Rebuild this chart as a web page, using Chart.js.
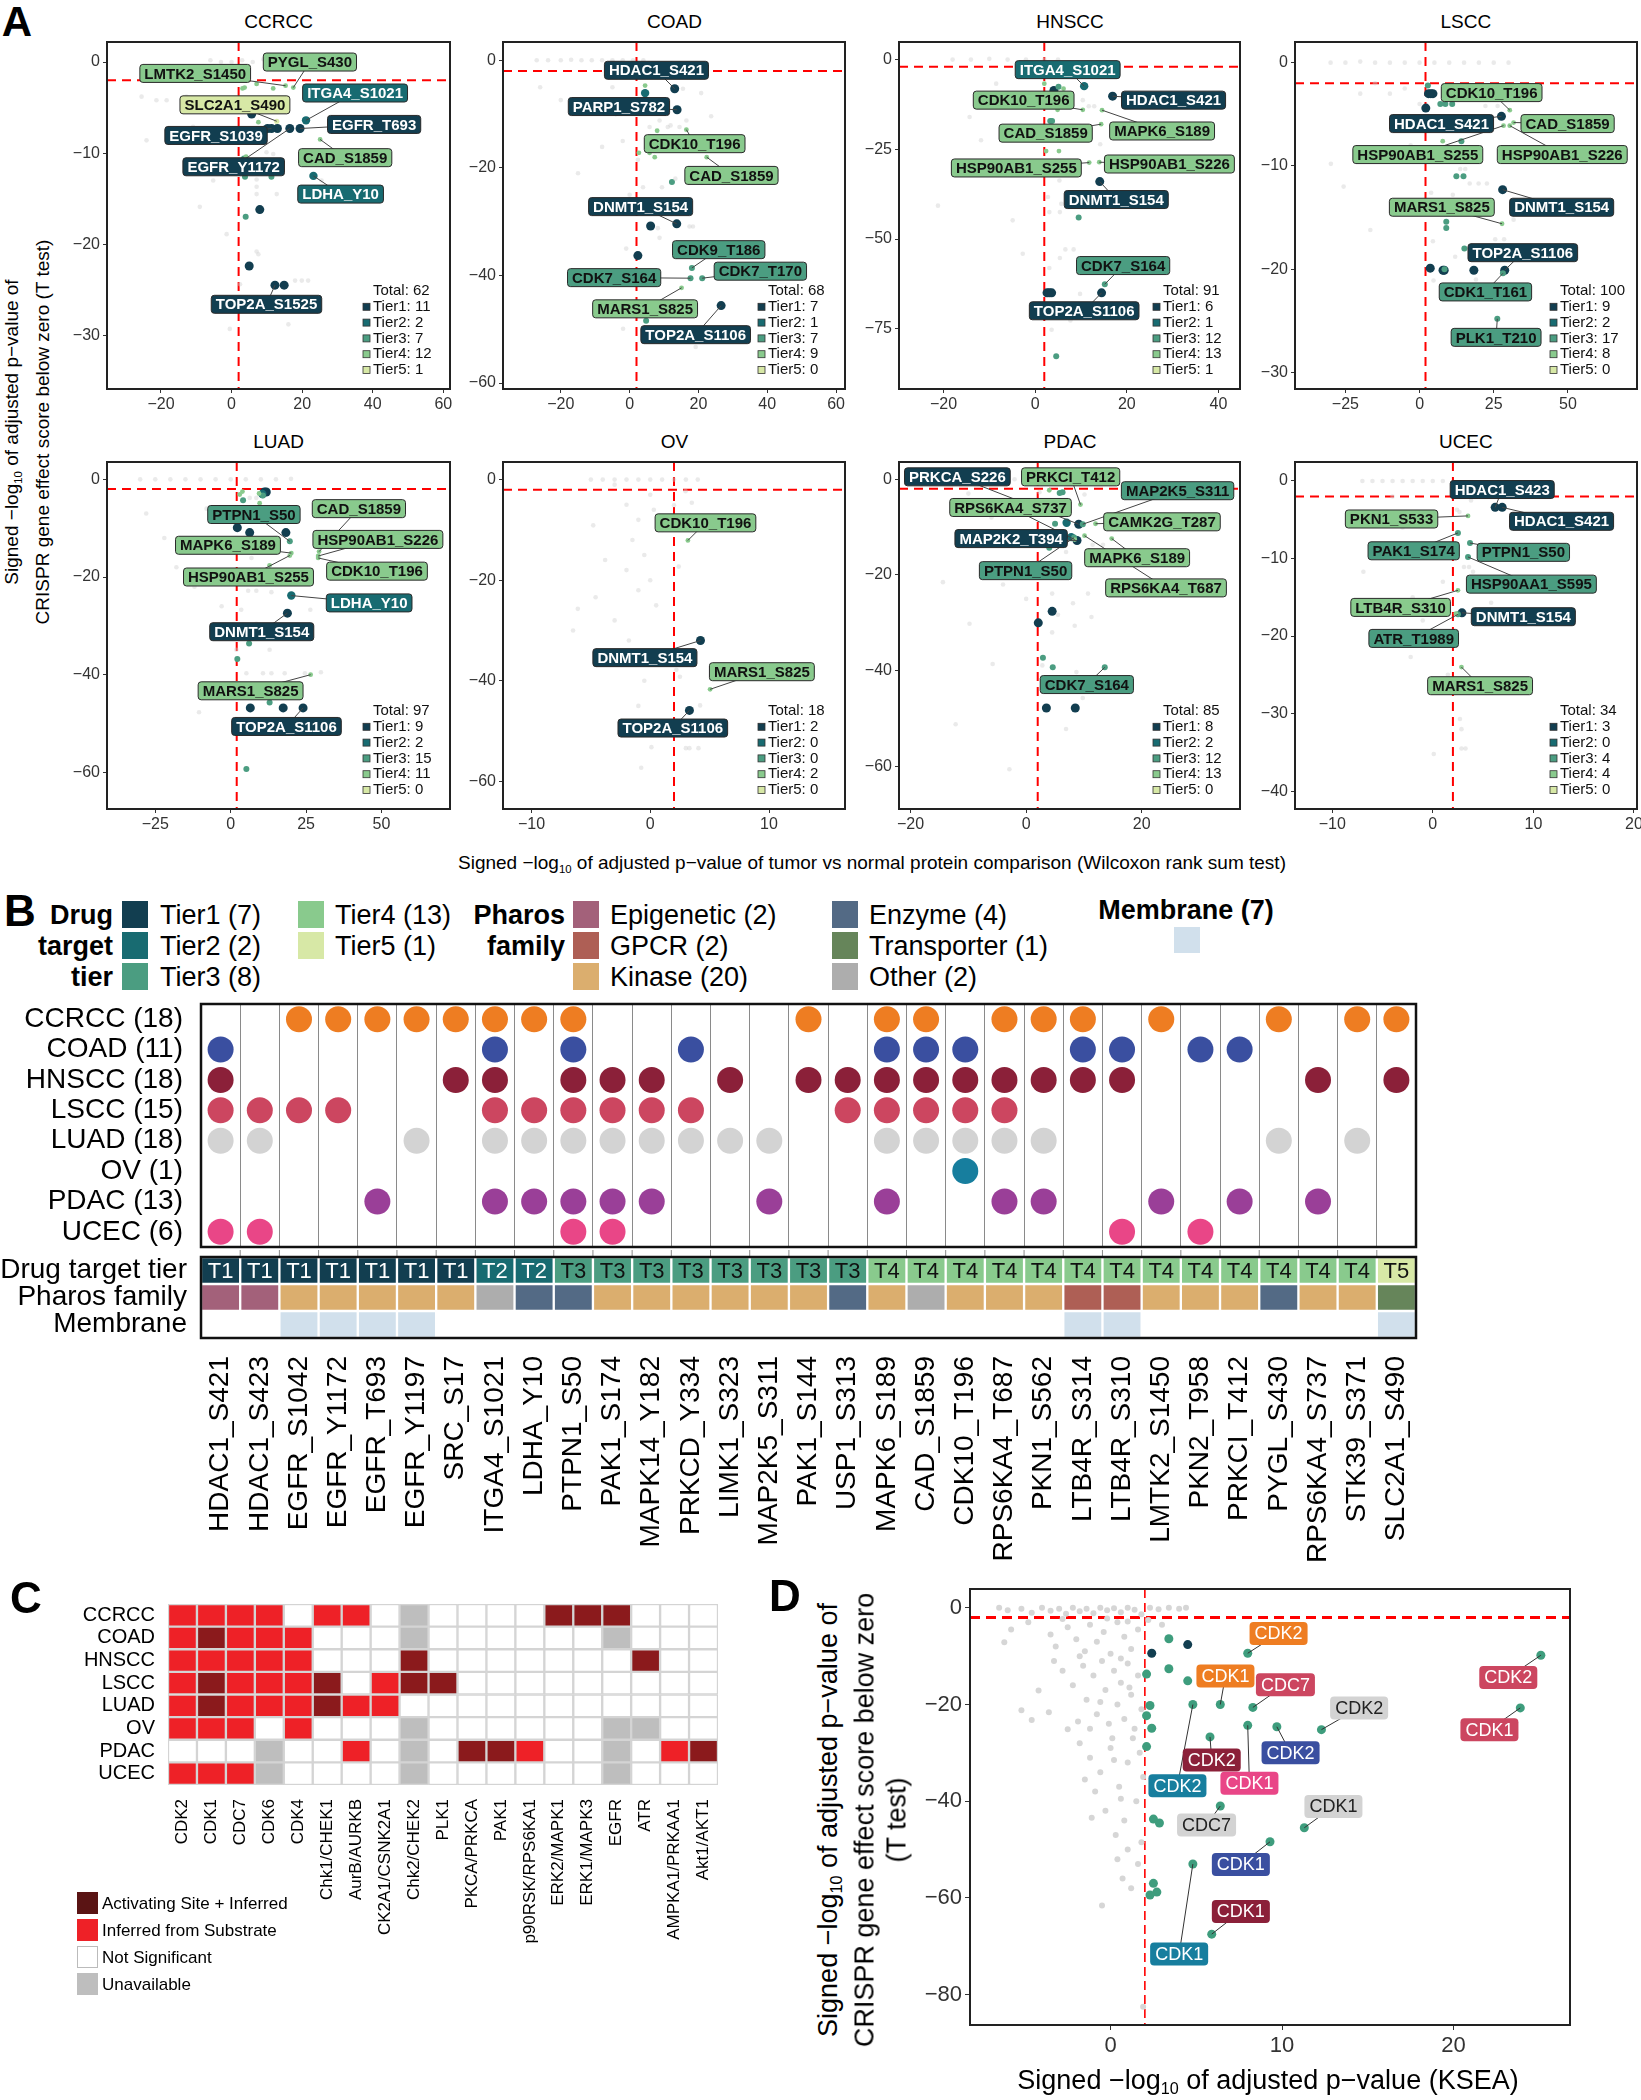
<!DOCTYPE html>
<html><head><meta charset="utf-8">
<script src="https://cdn.jsdelivr.net/npm/chart.js@4.4.1/dist/chart.umd.min.js"></script>
<style>
html,body{margin:0;padding:0;background:#fff}
body{position:relative;width:1641px;height:2100px;overflow:hidden;font-family:"Liberation Sans",Arial,Helvetica,sans-serif;color:#000}
.t{position:absolute;white-space:nowrap;line-height:1}
.sw{position:absolute;box-sizing:border-box}
canvas{position:absolute}
.sb{font-size:60%;vertical-align:-0.3em}
</style></head><body>
<script>
// ================= DATA =================
// Panel A
const panelNames = ["CCRCC","COAD","HNSCC","LSCC","LUAD","OV","PDAC","UCEC"];
const totalSites = [62,68,91,100,97,18,85,34];
const tier1Sites = [11,7,6,9,9,2,8,3];
const tier2Sites = [2,1,1,2,2,0,2,0];
const tier3Sites = [7,7,12,17,15,0,12,4];
const tier4Sites = [12,9,13,8,11,2,13,4];
const tier5Sites = [1,0,1,0,0,0,0,0];
const aXTicks = [[-20,0,20,40,60],[-20,0,20,40,60],[-20,0,20,40],[-25,0,25,50],[-25,0,25,50],[-10,0,10],[-20,0,20],[-10,0,10,20]];
const aYTicks = [[0,-10,-20,-30],[0,-20,-40,-60],[0,-25,-50,-75],[0,-10,-20,-30],[0,-20,-40,-60],[0,-20,-40,-60],[0,-20,-40,-60],[0,-10,-20,-30,-40]];

// labeled sites: [name, tier, x, y]
const ccrccLabeled = [["PYGL_S430",4,17.5,-2.8],["LMTK2_S1450",4,15.3,-2.6],["ITGA4_S1021",2,21.1,-6.4],["SLC2A1_S490",5,12.8,-6.5],["EGFR_T693",1,19.4,-7.3],["EGFR_S1039",1,11.3,-7.3],["CAD_S1859",4,25.1,-8.5],["EGFR_Y1172",1,16.5,-7.3],["LDHA_Y10",2,23.2,-12.5],["TOP2A_S1525",1,12.3,-24.5]];
const ccrccOther = [[1,5.7,-5.7],[1,13.0,-7.3],[1,10.2,-7.3],[1,8.0,-16.2],[1,5.0,-22.4],[1,14.9,-24.5],[3,3.8,-12.6],[3,11.3,-12.6],[3,4.0,-17.0],[3,3.5,-10.6],[4,3.1,-2.9],[4,3.7,-2.8],[4,7.1,-2.4],[4,11.8,-2.9],[4,7.6,-6.6],[4,4.1,-10.4]];
const ccrccBg = [[-25.5,-3.8],[-24.1,-8.6],[-21.3,-4.2],[-18.4,-4.2],[-12.8,-3.8],[-8,-4.2],[-0.5,-29.3],[7.1,-20.8],[7.6,-21.1],[16.1,-28.8],[18,-24],[19.9,-24],[21.7,-24],[7.1,-13.7],[7.1,-14.5],[12.8,-14.5],[9.9,-9.9],[11.8,-10.1],[7.1,-12.9],[25.5,-13],[3.8,-4.2],[-5.2,-13],[-9,-15.9],[-1.4,-18.9],[2.4,-24.4],[-4.3,-8.6],[-10.9,-7.1],[0,0],[3,0.2],[6,0],[9,0.3],[-3,0],[-6,0.2],[12,0]];

const coadLabeled = [["HDAC1_S421",1,13.1,-5.3],["PARP1_S782",1,13.8,-9.2],["CDK10_T196",4,16.5,-12.9],["CAD_S1859",4,22.4,-18.0],["DNMT1_S154",1,13.7,-30.4],["CDK9_T186",3,18.1,-38.6],["CDK7_S164",3,17.7,-40.5],["CDK7_T170",3,21.1,-40.5],["MARS1_S825",4,15.1,-42.3],["TOP2A_S1106",1,26.6,-45.6]];
const coadOther = [[2,4.5,-6.1],[4,4.5,-4.7],[4,8.0,-13.1],[4,2.7,-17.2],[4,5.8,-17.2],[4,7.3,-18.0],[3,12.3,-22.6],[3,4.8,-48.4],[1,6.1,-30.8],[1,2.4,-36.3]];
const coadBg = [[-27,0],[-23.7,0],[-20,0],[-17,0.1],[-14,0],[-11,0],[-8,0],[-5,0],[-2,0],[1,0],[4,0],[8.7,-11.2],[5.8,-12.4],[11.1,-12.4],[11.9,-12.1],[14.5,-12.4],[15.5,-5.3],[20.8,-6.1],[23.7,-10.4],[16.5,-11.2],[3.9,-23.6],[9.4,-23.6],[13.3,-22.0],[8.2,-31.2],[8.7,-33.0],[17.4,-30.9],[18.4,-30.9],[19.2,-53.3],[-1.9,-49.9],[2.4,-18.5],[-26,-5],[-20,-7.4],[-15,-21],[-8,-16.1],[-4,-10],[-2,-15],[0,-25],[-1,-35],[-5,-5]];

const hnsccLabeled = [["ITGA4_S1021",2,10.7,-7.4],["HDAC1_S421",1,16.9,-10.2],["CDK10_T196",4,10.4,-14.0],["MAPK6_S189",4,14.6,-14.1],["CAD_S1859",4,14.4,-18.0],["HSP90AB1_S255",4,11.8,-28.7],["HSP90AB1_S226",4,14.0,-28.6],["DNMT1_S154",1,14.1,-34.0],["CDK7_S164",3,15.2,-62.6],["TOP2A_S1106",1,14.5,-65.0]];
const hnsccOther = [[3,5.1,-7.6],[3,3.3,-17.1],[3,3.7,-17.1],[3,9.5,-44.0],[3,4.6,-82.7],[4,6.2,-8.1],[4,2.0,-6.7],[4,4.9,-14.0],[4,2.4,-25.5],[4,5.2,-25.5],[1,4.1,-8.6],[1,2.6,-65.0],[1,3.1,-65.0],[1,3.6,-65.0]];
const hnsccBg = [[10.4,-11.3],[11.7,-13.0],[12.9,-13.0],[14.2,-23.6],[5.3,-33.7],[5.4,-42.5],[2.8,-38.3],[3.1,-42.5],[5.7,-40.2],[6.6,-52.9],[8.4,-52.9],[5.4,-55.3],[3.1,-58.1],[9.8,-65.3],[3.6,-75.3],[7.7,-72.7],[-21.2,-40.7],[-11.8,-22.5],[-14.3,-16],[-3,-18.8],[-10.7,-11.3],[-5.6,-31.8],[-2.7,-54.1],[-4.9,-44.8],[-8.5,-6.7],[-18,0],[-14,0],[-10,0.2],[-6,0],[-2,0],[2,0],[5,0]];

const lsccLabeled = [["CDK10_T196",4,30.4,-4.6],["HDAC1_S421",1,27.6,-5.2],["CAD_S1859",4,31.7,-5.8],["HSP90AB1_S255",4,28.3,-6.1],["HSP90AB1_S226",4,30.4,-6.1],["MARS1_S825",4,27.8,-15.6],["DNMT1_S154",1,28.0,-12.3],["TOP2A_S1106",1,28.7,-20.1],["CDK1_T161",3,28.1,-20.4],["PLK1_T210",3,26.2,-24.8]];
const lsccOther = [[1,3.0,-3.0],[1,3.8,-3.0],[1,4.5,-3.0],[1,2.1,-4.4],[1,3.6,-19.9],[1,7.9,-20.1],[1,8.3,-20.1],[1,18.3,-20.1],[3,2.8,-2.2],[3,7.0,-4.0],[3,8.7,-4.0],[3,11.0,-4.0],[3,14.1,-7.6],[3,12.4,-11.0],[3,14.8,-11.0],[3,9.0,-15.4],[3,9.0,-16.0],[3,15.1,-18.0],[3,8.4,-20.0],[4,7.8,-7.6]];
const lsccBg = [[13.7,-10.3],[15.4,-10.3],[16.9,-11.7],[19.9,-11.7],[22.7,-11.7],[3.9,-12.6],[11.2,-12.8],[25.5,-17.1],[28.5,-17.1],[4.5,-17.3],[12,-18.8],[19,-21],[4.7,-21.1],[31.7,-15.2],[22.2,-4.2],[26.3,-4.2],[-29.9,-9.8],[-16.6,-16.2],[-25.6,-12],[-30,0],[-25,0],[-20,0.1],[-15,0],[-10,0],[-5,0],[0,0],[5,0],[10,0],[15,0],[20,0],[25,0],[30,0],[-15,-2],[-10,-3],[-5,-2.5],[0,-4],[-20,-3],[-8,-6],[-3,-8]];

const luadLabeled = [["PTPN1_S50",3,19.6,-12.7],["CAD_S1859",4,29.3,-14.8],["MAPK6_S189",4,20.1,-15.1],["HSP90AB1_S226",4,29.0,-15.7],["HSP90AB1_S255",4,19.6,-15.6],["CDK10_T196",4,29.0,-16.1],["LDHA_Y10",2,20.1,-23.8],["DNMT1_S154",1,18.8,-27.4],["MARS1_S825",4,26.5,-40.0],["TOP2A_S1106",1,24.0,-46.8]];
const luadOther = [[1,11.8,-2.6],[1,11.2,-2.6],[1,18.3,-10.9],[1,6.3,-10.9],[1,2.2,-9.9],[1,6.5,-46.8],[1,17.4,-46.8],[2,10.5,-3.0],[3,10.7,-3.3],[3,4.1,-4.3],[3,6.1,-33.6],[3,2.2,-36.8],[3,12.9,-45.7],[3,5.2,-59.3],[4,3.9,-2.5],[4,3.0,-3.1],[4,9.6,-4.9],[4,9.4,-2.9],[4,12.9,-17.6]];
const luadBg = [[5.2,-39.7],[10.7,-39.7],[13.5,-39.7],[17.9,-39.7],[24.6,-39.7],[29.9,-39.5],[3.5,-26.7],[26.4,-26.7],[8.5,-29.6],[12.9,-34.9],[5.8,-22.8],[8.5,-22.8],[13.5,-23.1],[6.9,-16.1],[13.5,-14.9],[7.4,-18.7],[-10.5,-47.7],[1.9,-34.9],[8.5,-3.8],[6.3,-3.8],[-30,0],[-25,0],[-20,0],[-15,0],[-10,0],[-5,0],[0,0],[5,0],[10,0],[15,0],[20,0.1],[-28,-7],[-22,-12],[-18,-18],[-12,-22],[-8,-6],[-3,-26],[-5,-15]];

const ovLabeled = [["CDK10_T196",4,3.17,-12.1],["DNMT1_S154",1,4.23,-32.0],["MARS1_S825",4,5.04,-41.7],["TOP2A_S1106",1,3.3,-45.9]];
const ovOther = [];
const ovBg = [[2.97,-2.3],[3.5,-4.6],[2.0,-5.1],[2.4,-17.3],[2.2,-37.8],[2.5,-39.2],[4.2,-44.9],[3.0,-53.4],[3.3,-53.4],[4.06,-53.4],[-0.76,-57.3],[0.1,-53.2],[-6.1,-25.7],[-4.6,-23.4],[-4.8,-9.1],[-3,-1],[-5,0],[-4,0],[-3,0],[-2,0],[-1,0],[0,0],[1,0],[2,0],[3,0],[4,0],[-2,-5],[-1,-8],[0,-3],[-1.5,-12],[-0.5,-15],[0,-20],[-1,-22],[-2,-18],[-3,-28],[0.5,-25],[-1.8,-32],[1,-10],[0.3,-6],[-3.8,-16],[-6.5,-30],[-1,-45],[-0.5,-40]];

const pdacLabeled = [["PRKCA_S226",1,9.1,-9.4],["PRKCI_T412",4,9.4,-5.3],["MAP2K5_S311",3,9.8,-9.4],["RPS6KA4_S737",4,8.4,-12.6],["CAMK2G_T287",4,12.0,-9.3],["MAP2K2_T394",1,8.8,-12.8],["MAPK6_S189",4,14.8,-12.4],["PTPN1_S50",3,8.3,-12.2],["RPS6KA4_T687",4,10.1,-11.8],["CDK7_S164",3,13.6,-39.3]];
const pdacOther = [[3,5.0,-9.3],[3,5.8,-2.9],[3,6.3,-2.7],[3,4.0,-14.3],[3,2.9,-37.3],[3,4.6,-39.3],[2,7.0,-9.1],[2,7.8,-12.1],[4,4.0,-2.3],[1,4.5,-27.6],[1,2.1,-30.0],[1,3.5,-47.8],[1,8.5,-47.8]];
const pdacBg = [[2.3,-2.7],[10.1,-3.2],[4.5,-23.9],[10.7,-23.9],[8.1,-25.9],[5.5,-28.3],[11.3,-28.8],[4.5,-32],[8.4,-30.6],[2.8,-38.9],[8.7,-40.3],[9.8,-45.7],[6.9,-52.2],[-9.8,-30.2],[-14.4,-21.5],[-12.2,-51.2],[-5.8,-38.6],[-2.9,-60.6],[1.2,-6.5],[11.5,-13.7],[13.3,-13.7],[7.5,-6.5],[6.9,-15.2],[-8,0],[-5,0],[-2,0],[0,0],[2,0],[4,0],[6,0],[-10,-3],[-6,-8],[-3,-12],[-1,-18],[-4,-22],[0,-25]];

const ucecLabeled = [["HDAC1_S423",1,6.2,-3.4],["HDAC1_S421",1,6.9,-3.4],["PKN1_S533",4,3.5,-4.5],["PAK1_S174",3,2.5,-6.7],["PTPN1_S50",3,3.7,-8.0],["HSP90AA1_S595",3,3.5,-9.8],["LTB4R_S310",4,2.5,-14.1],["DNMT1_S154",1,2.9,-17.0],["ATR_T1989",3,2.5,-17.2],["MARS1_S825",4,2.85,-24.0]];
const ucecOther = [[4,2.3,-17.1]];
const ucecBg = [[2.4,-3.7],[2.65,-4.0],[3.8,-2.5],[3.1,-11.1],[3.6,-11.1],[4.0,-11.7],[5.8,-15.7],[2.7,-30.7],[2.85,-32.0],[2.85,-34.5],[3.25,-34.5],[0.1,-35.2],[-6.9,-11.7],[-2.2,-22.7],[-2.9,-8.3],[-7,0],[-6,0],[-5,0],[-4,0],[-3,0],[-2,0],[-1,0],[0,0],[1,0],[2,-0.2],[-4,-2],[-1,-5],[0,-9],[1,-13],[-2,-15],[-1,-18],[0.5,-20],[-3,-6],[1.5,-25]];

// Panel B
const bSites = ["HDAC1_S421","HDAC1_S423","EGFR_S1042","EGFR_Y1172","EGFR_T693","EGFR_Y1197","SRC_S17","ITGA4_S1021","LDHA_Y10","PTPN1_S50","PAK1_S174","MAPK14_Y182","PRKCD_Y334","LIMK1_S323","MAP2K5_S311","PAK1_S144","USP1_S313","MAPK6_S189","CAD_S1859","CDK10_T196","RPS6KA4_T687","PKN1_S562","LTB4R_S314","LTB4R_S310","LMTK2_S1450","PKN2_T958","PRKCI_T412","PYGL_S430","RPS6KA4_S737","STK39_S371","SLC2A1_S490"];
const bTiers = [1,1,1,1,1,1,1,2,2,3,3,3,3,3,3,3,3,4,4,4,4,4,4,4,4,4,4,4,4,4,5];
const bFamily = ["Epigenetic","Epigenetic","Kinase","Kinase","Kinase","Kinase","Kinase","Other","Enzyme","Enzyme","Kinase","Kinase","Kinase","Kinase","Kinase","Kinase","Enzyme","Kinase","Other","Kinase","Kinase","Kinase","GPCR","GPCR","Kinase","Kinase","Kinase","Enzyme","Kinase","Kinase","Transporter"];
const bMembrane = [0,0,1,1,1,1,0,0,0,0,0,0,0,0,0,0,0,0,0,0,0,0,1,1,0,0,0,0,0,0,1];
const bCancers = ["CCRCC","COAD","HNSCC","LSCC","LUAD","OV","PDAC","UCEC"];
const bCCRCC = [3,4,5,6,7,8,9,10,16,18,19,21,22,23,25,28,30,31];
const bCOAD = [1,8,10,13,18,19,20,23,24,26,27];
const bHNSCC = [1,7,8,10,11,12,14,16,17,18,19,20,21,22,23,24,29,31];
const bLSCC = [1,2,3,4,8,9,10,11,12,13,17,18,19,20,21];
const bLUAD = [1,2,6,8,9,10,11,12,13,14,15,18,19,20,21,22,28,30];
const bOV = [20];
const bPDAC = [5,8,9,10,11,12,15,18,21,22,25,27,29];
const bUCEC = [1,2,10,11,24,26];
const tierLegendCounts = [7,2,8,13,1];
const familyNames = ["Epigenetic","GPCR","Kinase","Enzyme","Transporter","Other"];
const familyCounts = [2,2,20,4,1,2];
const membraneCount = 7;

// Panel C (0 not significant, 1 inferred from substrate, 2 activating site + inferred, 3 unavailable)
const cKinases = ["CDK2","CDK1","CDC7","CDK6","CDK4","Chk1/CHEK1","AurB/AURKB","CK2A1/CSNK2A1","Chk2/CHEK2","PLK1","PKCA/PRKCA","PAK1","p90RSK/RPS6KA1","ERK2/MAPK1","ERK1/MAPK3","EGFR","ATR","AMPKA1/PRKAA1","Akt1/AKT1"];
const cCCRCC = [1,1,1,1,0,1,1,0,3,0,0,0,0,2,2,2,0,0,0];
const cCOAD  = [1,2,1,1,1,0,0,0,3,0,0,0,0,0,0,3,0,0,0];
const cHNSCC = [1,1,1,1,1,0,0,0,2,0,0,0,0,0,0,0,2,0,0];
const cLSCC  = [1,2,1,1,1,2,0,1,2,2,0,0,0,0,0,0,0,0,0];
const cLUAD  = [1,2,1,1,1,2,1,1,0,0,0,0,0,0,0,0,0,0,0];
const cOV    = [1,1,1,0,1,0,0,0,3,0,0,0,0,0,0,3,3,0,0];
const cPDAC  = [0,0,0,3,0,0,1,0,3,0,2,2,1,0,0,3,0,1,2];
const cUCEC  = [1,1,1,3,0,0,0,0,3,0,0,0,0,0,0,3,0,0,0];
const cLegend = ["Activating Site + Inferred","Inferred from Substrate","Not Significant","Unavailable"];

// Panel D
const dGray = [[-6.5,0],[-6.0,-0.5],[-5.2,-0.2],[-4.6,-1.0],[-4.0,0],[-3.5,-0.6],[-3.0,-0.2],[-2.6,-1.2],[-2.2,0],[-1.8,-0.7],[-1.4,-0.2],[-1.0,-1.1],[-0.6,0],[-0.2,-0.5],[0.2,-0.1],[0.6,-0.9],[1.0,0],[1.4,-0.4],[1.8,-1.3],[2.3,0],[2.8,-0.3],[3.4,0],[4.0,-0.2],[4.4,0],
[-6.2,-7.1],[-5.8,-4.5],[-4.8,-3.0],[-3.5,-5.5],[-3.2,-8.0],[-2.5,-4.0],[-2.0,-6.5],[-1.5,-9.0],[-1.2,-3.5],[-0.8,-7.0],[-0.4,-5.0],[0.0,-9.5],[0.4,-3.0],[0.8,-6.0],[1.2,-8.5],[1.6,-4.5],[2.2,-2.5],[3.0,-3.5],[-1.8,-10.0],[0.6,-10.5],[-0.2,-2.2],[1.0,-2.8],[-2.8,-2.3],
[-4.2,-17.1],[-5.2,-21.2],[-4.6,-23.2],[-3.6,-21.6],[-2.5,-25.1],[-2.8,-13.0],[-2.2,-16.0],[-1.6,-12.0],[-1.4,-19.0],[-1.0,-14.0],[-0.8,-22.0],[-0.5,-11.0],[-0.3,-17.0],[-0.1,-24.0],[0.2,-13.0],[0.4,-20.0],[0.6,-15.5],[0.8,-23.0],[1.0,-11.5],[1.2,-18.0],[1.4,-25.0],[1.6,-14.0],[1.8,-21.0],[-1.9,-23.5],[-3.3,-11.0],[0.1,-27.0],[1.1,-16.5],[-0.6,-19.5],[-1.2,-25.0],
[-1.8,-28.0],[-1.2,-31.0],[-0.6,-34.0],[0.0,-29.0],[0.5,-37.0],[1.0,-32.0],[1.5,-40.0],[-0.3,-42.0],[0.8,-44.0],[1.9,-35.0],[-0.9,-38.0],[0.2,-31.5],[1.3,-27.0],[-1.1,-43.4],[0.6,-39.5],[1.7,-30.0],[-1.5,-35.5],
[0.3,-47.0],[1.0,-50.0],[1.6,-53.0],[0.7,-56.0],[1.8,-48.5],[-0.5,-61.6],[1.2,-58.0],[0.4,-52.0],[1.9,-82.5]];
const dGreen = [[3.4,-6.4],[3.4,-12.6],[4.5,-15.1],[2.1,-13.7],[2.3,-20.2],[2.1,-22.3],[2.4,-24.9],[2.1,-28.7],[2.85,-44.5],[2.5,-43.7],[2.5,-57.0],[2.7,-58.8],[2.3,-59.4]];
const dNavy = [[4.5,-7.6],[2.4,-9.4]];
const dLabeled = [["CDK2","CCRCC",8.0,-9.4],["CDK1","CCRCC",6.4,-20.0],["CDC7","LSCC",8.3,-20.6],["CDK2","LSCC",25.1,-9.8],["CDK1","LSCC",23.9,-20.7],["CDK2","LUAD",12.3,-25.2],["CDK2","COAD",9.7,-24.6],["CDK2","HNSCC",5.8,-26.7],["CDK2","OV",4.8,-20.0],["CDK1","UCEC",8.0,-24.3],["CDK1","LUAD",11.3,-45.5],["CDC7","LUAD",6.4,-41.0],["CDK1","COAD",9.3,-48.4],["CDK1","HNSCC",5.9,-67.5],["CDK1","OV",4.8,-53.0]];

// ================= LAYOUT / STYLE =================
const FONT = '"Liberation Sans", Arial, Helvetica, sans-serif';
const TIERC = ['#cccccc','#123E50','#186B71','#4B9D81','#89CA8D','#D7E8A6'];
const TIER_R = [2.2,4.5,4.2,3,2.4,2.6];
const CANCERC = {CCRCC:'#EE7D22',COAD:'#3A4FA0',HNSCC:'#8B2039',LSCC:'#CC4660',LUAD:'#D3D3D3',OV:'#177E9E',PDAC:'#9A3F98',UCEC:'#E94687'};
const FAMC = {Epigenetic:'#A3617A',GPCR:'#AE5F55',Kinase:'#DBAE6E',Enzyme:'#536A85',Transporter:'#66855A',Other:'#ADADAD'};
const MEMC = '#D1E0EC';
const HEATC = ['#FFFFFF','#EE2127','#8B1A1C','#BEBEBE'];
const A_LAYOUT = [
 {box:[107.3,41.7,450,388.3], xr:[-35.3,61.9], yr:[-35.9,2.2], anchors:[[22.2,0.0],[-10.3,-1.25],[35.0,-3.4],[0.95,-4.7],[40.4,-6.85],[-4.4,-8.06],[32.2,-10.5],[0.6,-11.5],[30.9,-14.5],[9.9,-26.6]]},
 {box:[503.3,41.7,845.7,388.3], xr:[-36.8,62.6], yr:[-61.1,3.4], anchors:[[7.8,-1.86],[-3.1,-8.6],[18.9,-15.5],[29.6,-21.4],[3.2,-27.2],[25.9,-35.2],[-4.5,-40.4],[38.0,-39.2],[4.5,-46.2],[19.2,-51.0]]},
 {box:[899.3,41.7,1240.7,388.3], xr:[-29.7,44.7], yr:[-91.8,4.9], anchors:[[7.1,-2.8],[30.2,-11.3],[-2.5,-11.3],[27.7,-19.9],[2.3,-20.5],[-4.1,-30.2],[29.3,-29.1],[17.7,-39.0],[19.2,-57.4],[10.7,-70.0]]},
 {box:[1295,41.7,1636.7,388.3], xr:[-42,73.3], yr:[-31.6,2.0], anchors:[[24.3,-2.9],[7.4,-5.9],[49.9,-5.9],[-0.6,-8.9],[48.1,-8.9],[7.5,-14.0],[47.9,-14.0],[34.8,-18.4],[22.2,-22.2],[25.8,-26.6]]},
 {box:[107.3,461.7,450,808.3], xr:[-41,72.7], yr:[-67.5,3.55], anchors:[[7.7,-7.2],[42.5,-6.0],[-0.9,-13.5],[48.8,-12.3],[5.9,-20.0],[48.5,-18.8],[45.9,-25.3],[10.3,-31.2],[6.6,-43.3],[18.5,-50.6]]},
 {box:[503.3,461.7,845.7,808.3], xr:[-12.4,16.4], yr:[-65.5,3.5], anchors:[[4.65,-8.6],[-0.45,-35.4],[9.4,-38.2],[1.9,-49.4]]},
 {box:[899.3,461.7,1240.7,808.3], xr:[-22,37], yr:[-68.9,3.6], anchors:[[-11.9,0.5],[7.7,0.5],[26.2,-2.4],[-2.7,-5.9],[23.5,-8.9],[-2.6,-12.4],[19.2,-16.4],[-0.1,-19.1],[24.2,-22.7],[10.5,-42.9]]},
 {box:[1295,461.7,1636.7,808.3], xr:[-13.7,20.3], yr:[-42.3,2.45], anchors:[[6.9,-1.1],[12.8,-5.2],[-4.1,-4.9],[-1.9,-9.0],[9.0,-9.2],[9.8,-13.3],[-3.2,-16.3],[9.0,-17.5],[-1.9,-20.3],[4.7,-26.4]]}
];
const D_ANCHORS = [[9.8,-5.3],[6.7,-14.1],[10.2,-15.9],[23.2,-14.4],[22.1,-25.2],[14.5,-20.7],[10.5,-30.0],[5.9,-31.5],[3.9,-36.8],[8.1,-36.3],[13.0,-41.1],[5.6,-44.9],[7.6,-53.1],[7.6,-62.8],[4.0,-71.6]];

// ================= HELPERS =================
Chart.defaults.font.family = FONT;
Chart.defaults.animation = false;
Chart.defaults.color = '#333';
function txt(html,x,y,size,o={}){
  const d=document.createElement('div');d.className='t';d.innerHTML=html;
  d.style.fontSize=size+'px';d.style.left=x+'px';d.style.top=y+'px';
  if(o.bold)d.style.fontWeight='bold';
  if(o.color)d.style.color=o.color;
  const ax=o.ax??0, ay=o.ay??0.5;
  d.style.transform=`translate(${-ax*100}%,${-ay*100}%)`+(o.rot?` rotate(${o.rot}deg)`:'');
  document.body.appendChild(d);return d;
}
function sw(x,y,w,h,c,b){const d=document.createElement('div');d.className='sw';d.style.left=x+'px';d.style.top=y+'px';d.style.width=w+'px';d.style.height=h+'px';d.style.background=c;if(b)d.style.border='1px solid '+b;document.body.appendChild(d);}
function mkCanvas(l,t,w,h){const c=document.createElement('canvas');c.width=w;c.height=h;c.style.left=l+'px';c.style.top=t+'px';c.style.width=w+'px';c.style.height=h+'px';document.body.appendChild(c);return c;}
function rrect(ctx,x,y,w,h,r){ctx.beginPath();ctx.moveTo(x+r,y);ctx.arcTo(x+w,y,x+w,y+h,r);ctx.arcTo(x+w,y+h,x,y+h,r);ctx.arcTo(x,y+h,x,y,r);ctx.arcTo(x,y,x+w,y,r);ctx.closePath();}
const mfmt = v => v<0 ? '\u2212'+Math.abs(v) : String(v);
function fixW(w){return s=>{s.width=w;s.paddingTop=0;s.paddingBottom=0;s.paddingLeft=0;s.paddingRight=0;};}
function fixH(h){return s=>{s.height=h;s.paddingTop=0;s.paddingBottom=0;s.paddingLeft=0;s.paddingRight=0;};}
const base = {responsive:false, maintainAspectRatio:false, animation:false, devicePixelRatio:1, events:[], plugins:{legend:{display:false},tooltip:{enabled:false}}};
const lay = (t,r) => ({autoPadding:false, padding:{left:0,top:t,right:r,bottom:0}});

// ================= PANEL A =================
const A_DATA = [[ccrccLabeled,ccrccOther,ccrccBg],[coadLabeled,coadOther,coadBg],[hnsccLabeled,hnsccOther,hnsccBg],[lsccLabeled,lsccOther,lsccBg],[luadLabeled,luadOther,luadBg],[ovLabeled,ovOther,ovBg],[pdacLabeled,pdacOther,pdacBg],[ucecLabeled,ucecOther,ucecBg]];
const tierCountArrays=[null,tier1Sites,tier2Sites,tier3Sites,tier4Sites,tier5Sites];
A_DATA.forEach(([labeled,other,bg],i)=>{
  const L=A_LAYOUT[i]; const [bl,bt,br,bb]=L.box;
  const YW=54, XH=30;
  const cv=mkCanvas(bl-YW, bt-2, Math.round(br-bl)+YW+8, Math.round(bb-bt)+2+XH);
  const datasets=[{data:bg.map(p=>({x:p[0],y:p[1]})),pointRadius:2.3,backgroundColor:'rgba(205,205,205,0.42)',borderWidth:0}];
  for(const t of [5,4,3,2,1]){
    const pts=other.filter(p=>p[0]===t).map(p=>({x:p[1],y:p[2]})).concat(labeled.filter(p=>p[1]===t).map(p=>({x:p[2],y:p[3]})));
    datasets.push({data:pts,pointRadius:TIER_R[t],backgroundColor:TIERC[t],borderWidth:0});
  }
  const deco={id:'aDeco'+i,
    beforeDatasetsDraw(chart){const {ctx,chartArea:a,scales:{x,y}}=chart;ctx.save();ctx.strokeStyle='#FF0000';ctx.lineWidth=2;ctx.setLineDash([9,6]);
      const px=x.getPixelForValue(2),py=y.getPixelForValue(-2);ctx.beginPath();ctx.moveTo(px,a.top);ctx.lineTo(px,a.bottom);ctx.moveTo(a.left,py);ctx.lineTo(a.right,py);ctx.stroke();ctx.restore();},
    afterDatasetsDraw(chart){const {ctx,chartArea:a,scales:{x,y}}=chart;ctx.save();
      ctx.strokeStyle='#444';ctx.lineWidth=1;
      labeled.forEach((p,k)=>{const an=L.anchors[k];ctx.beginPath();ctx.moveTo(x.getPixelForValue(an[0]),y.getPixelForValue(an[1]));ctx.lineTo(x.getPixelForValue(p[2]),y.getPixelForValue(p[3]));ctx.stroke();});
      ctx.font='bold 15px '+FONT;ctx.textAlign='center';ctx.textBaseline='middle';
      labeled.forEach((p,k)=>{const an=L.anchors[k];const X=x.getPixelForValue(an[0]),Y=y.getPixelForValue(an[1]);
        const w=ctx.measureText(p[0]).width+9,h=18;rrect(ctx,X-w/2,Y-h/2,w,h,3);ctx.fillStyle=TIERC[p[1]];ctx.fill();ctx.strokeStyle='#2a2a2a';ctx.lineWidth=1;ctx.stroke();
        ctx.fillStyle=p[1]<=2?'#FFFFFF':'#111';ctx.fillText(p[0],X,Y+1);});
      const lx=a.right-77, ly=a.bottom-98;ctx.font='15px '+FONT;ctx.textAlign='left';ctx.fillStyle='#111';
      ctx.fillText('Total: '+totalSites[i],lx,ly);
      for(let t=1;t<=5;t++){const yy=ly+t*15.8;ctx.fillStyle=TIERC[t];ctx.fillRect(lx-10,yy-3.5,7,7);ctx.strokeStyle='#333';ctx.lineWidth=0.8;ctx.strokeRect(lx-10,yy-3.5,7,7);
        ctx.fillStyle='#111';ctx.fillText('Tier'+t+': '+tierCountArrays[t][i],lx,yy);}
      ctx.strokeStyle='#222';ctx.lineWidth=2;ctx.strokeRect(a.left,a.top,a.right-a.left,a.bottom-a.top);
      ctx.restore();}
  };
  new Chart(cv,{type:'scatter',data:{datasets},plugins:[deco],options:{...base,
    layout:lay(2,8),
    scales:{
      x:{type:'linear',min:L.xr[0],max:L.xr[1],afterBuildTicks:s=>{s.ticks=aXTicks[i].map(v=>({value:v}))},afterFit:fixH(XH),
         grid:{drawOnChartArea:false,drawTicks:true,tickLength:4,color:'#333',lineWidth:1},border:{display:false},
         ticks:{autoSkip:false,maxRotation:0,font:{size:16},color:'#333',padding:2,callback:v=>mfmt(v)}},
      y:{type:'linear',min:L.yr[0],max:L.yr[1],afterBuildTicks:s=>{s.ticks=aYTicks[i].map(v=>({value:v}))},afterFit:fixW(YW),
         grid:{drawOnChartArea:false,drawTicks:true,tickLength:4,color:'#333',lineWidth:1},border:{display:false},
         ticks:{autoSkip:false,font:{size:16},color:'#333',padding:3,callback:v=>mfmt(v)}}
    }}});
  txt(panelNames[i],(bl+br)/2,bt-21,19,{ax:0.5});
});
txt('A',17,22,42,{bold:true,ax:0.5});
txt('Signed \u2212log<span class="sb">10</span> of adjusted p\u2212value of',13,432,19,{ax:0.5,rot:-90});
txt('CRISPR gene effect score below zero (T test)',42,432,19,{ax:0.5,rot:-90});
txt('Signed \u2212log<span class="sb">10</span> of adjusted p\u2212value of tumor vs normal protein comparison (Wilcoxon rank sum test)',872,864,19,{ax:0.5});

// ================= PANEL B =================
txt('B',20,911,44,{bold:true,ax:0.5});
['Drug','target','tier'].forEach((s,k)=>txt(s,113,915+k*31,27,{bold:true,ax:1}));
for(let t=1;t<=5;t++){const col=t<=3?0:1, row=t<=3?t-1:t-4; const sx=col?298:122, tx=col?335:160;
  sw(sx,901+row*31,26,27,TIERC[t]); txt('Tier'+t+' ('+tierLegendCounts[t-1]+')',tx,915+row*31,27);}
['Pharos','family'].forEach((s,k)=>txt(s,565,915+k*31,27,{bold:true,ax:1}));
familyNames.forEach((f,k)=>{const col=k<3?0:1,row=k%3;const sx=col?832:573,tx=col?869:610;
  sw(sx,901+row*31,26,27,FAMC[f]); txt(f+' ('+familyCounts[k]+')',tx,915+row*31,27);});
txt('Membrane ('+membraneCount+')',1186,910,27,{bold:true,ax:0.5});
sw(1174,927,26,26,MEMC);

const bPresence=[bCCRCC,bCOAD,bHNSCC,bLSCC,bLUAD,bOV,bPDAC,bUCEC];
const cvB=mkCanvas(0,1002,1422,247);
new Chart(cvB,{type:'scatter',
  data:{datasets:bCancers.map((c,ri)=>({data:bPresence[ri].map(col=>({x:col,y:ri+1})),pointRadius:13,backgroundColor:CANCERC[c],borderWidth:0}))},
  plugins:[{id:'bBox',afterDatasetsDraw(chart){const {ctx,chartArea:a}=chart;ctx.save();ctx.strokeStyle='#111';ctx.lineWidth=2.5;ctx.strokeRect(a.left,a.top,a.right-a.left,a.bottom-a.top);ctx.restore();}}],
  options:{...base,layout:{autoPadding:false,padding:{left:0,top:2,right:6,bottom:2}},
    scales:{
      x:{type:'linear',min:0.5,max:31.5,afterBuildTicks:s=>{const t=[];for(let k=1;k<31;k++)t.push({value:k+0.5});s.ticks=t;},afterFit:fixH(0),
         ticks:{display:false},grid:{drawTicks:false,color:'#8a8a8a',lineWidth:1},border:{display:false}},
      y:{type:'linear',min:0.5,max:8.5,reverse:true,afterBuildTicks:s=>{s.ticks=bCancers.map((c,k)=>({value:k+1}))},afterFit:fixW(201),
         grid:{display:false},border:{display:false},
         ticks:{autoSkip:false,font:{size:28},color:'#000',padding:10,callback:(v)=>bCancers[v-1]+' ('+bPresence[v-1].length+')'}}
    }}});

const annRows=['Drug target tier','Pharos family','Membrane'];
const cvAnn=mkCanvas(0,1250,1422,345);
new Chart(cvAnn,{type:'bar',
  data:{labels:bSites,datasets:[
    {data:bSites.map(()=>[0.5,1.5]),backgroundColor:bTiers.map(t=>TIERC[t]),grouped:false,barPercentage:1,categoryPercentage:1,borderColor:'#fff',borderWidth:1.5,borderSkipped:false},
    {data:bSites.map(()=>[1.5,2.5]),backgroundColor:bFamily.map(f=>FAMC[f]),grouped:false,barPercentage:1,categoryPercentage:1,borderColor:'#fff',borderWidth:1.5,borderSkipped:false},
    {data:bSites.map(()=>[2.5,3.5]),backgroundColor:bMembrane.map(m=>m?MEMC:'#fff'),grouped:false,barPercentage:1,categoryPercentage:1,borderColor:'#fff',borderWidth:1.5,borderSkipped:false}]},
  plugins:[{id:'annDeco',afterDatasetsDraw(chart){const {ctx,chartArea:a,scales:{x,y}}=chart;ctx.save();
    ctx.font='22px '+FONT;ctx.textAlign='center';ctx.textBaseline='middle';
    bTiers.forEach((t,k)=>{ctx.fillStyle=t<=2?'#fff':'#111';ctx.fillText('T'+t,x.getPixelForValue(k),y.getPixelForValue(1)+1);});
    ctx.strokeStyle='#8a8a8a';ctx.lineWidth=1;
    for(let k=0;k<bSites.length-1;k++){const px=(x.getPixelForValue(k)+x.getPixelForValue(k+1))/2;ctx.beginPath();ctx.moveTo(px,a.top-10);ctx.lineTo(px,a.top);ctx.stroke();}
    ctx.strokeStyle='#111';ctx.lineWidth=2.5;ctx.strokeRect(a.left,a.top,a.right-a.left,a.bottom-a.top);ctx.restore();}}],
  options:{...base,layout:lay(7,6),
    scales:{
      x:{type:'category',afterFit:fixH(345-88),grid:{display:false},border:{display:false},
         ticks:{autoSkip:false,minRotation:90,maxRotation:90,font:{size:28},color:'#000',padding:10}},
      y:{type:'linear',min:0.5,max:3.5,reverse:true,afterBuildTicks:s=>{s.ticks=annRows.map((r,k)=>({value:k+1}))},afterFit:fixW(201),
         grid:{display:false},border:{display:false},
         ticks:{autoSkip:false,font:{size:28},color:'#000',padding:6,callback:v=>annRows[v-1]}}
    }}});

// ================= PANEL C =================
txt('C',26,1598,44,{bold:true,ax:0.5});
const cRowsData=[cCCRCC,cCOAD,cHNSCC,cLSCC,cLUAD,cOV,cPDAC,cUCEC];
const cvC=mkCanvas(0,1600,724,400);
new Chart(cvC,{type:'bar',
  data:{labels:cKinases,datasets:cRowsData.map((vals,ri)=>({data:vals.map(()=>[ri+0.5,ri+1.5]),backgroundColor:vals.map(v=>HEATC[v]),grouped:false,barPercentage:1,categoryPercentage:1,borderColor:'#D4D4D4',borderWidth:1.5,borderSkipped:false}))},
  options:{...base,layout:lay(4,6),
    scales:{
      x:{type:'category',afterFit:fixH(215),grid:{display:false},border:{display:false},
         ticks:{autoSkip:false,minRotation:90,maxRotation:90,font:{size:17},color:'#000',padding:6}},
      y:{type:'linear',min:0.5,max:8.5,reverse:true,afterBuildTicks:s=>{s.ticks=bCancers.map((c,k)=>({value:k+1}))},afterFit:fixW(168),
         grid:{display:false},border:{display:false},
         ticks:{autoSkip:false,font:{size:20},color:'#000',padding:5,callback:v=>bCancers[v-1]}}
    }}});
const cLegC=['#5A1414','#EE2127','#FFFFFF','#BEBEBE'];
cLegend.forEach((s,k)=>{sw(77,1892+k*27,21,22,cLegC[k],k===2?'#BBBBBB':null);txt(s,102,1903+k*27,17);});

// ================= PANEL D =================
txt('D',785,1596,44,{bold:true,ax:0.5});
const cvD=mkCanvas(905,1585,675,480);
new Chart(cvD,{type:'scatter',
  data:{datasets:[
    {data:dGray.map(p=>({x:p[0],y:p[1]})),pointRadius:3,backgroundColor:'#D6D6D6',borderWidth:0},
    {data:dGreen.map(p=>({x:p[0],y:p[1]})).concat(dLabeled.map(p=>({x:p[2],y:p[3]}))),pointRadius:4.5,backgroundColor:'#3E9D7D',borderWidth:0},
    {data:dNavy.map(p=>({x:p[0],y:p[1]})),pointRadius:4.5,backgroundColor:'#123E50',borderWidth:0}]},
  plugins:[{id:'dDeco',
    beforeDatasetsDraw(chart){const {ctx,chartArea:a,scales:{x,y}}=chart;ctx.save();ctx.strokeStyle='#FF0000';
      ctx.lineWidth=3;ctx.setLineDash([10,6]);const py=y.getPixelForValue(-2);ctx.beginPath();ctx.moveTo(a.left,py);ctx.lineTo(a.right,py);ctx.stroke();
      ctx.lineWidth=1.6;ctx.setLineDash([9,5]);const px=x.getPixelForValue(2);ctx.beginPath();ctx.moveTo(px,a.top);ctx.lineTo(px,a.bottom);ctx.stroke();ctx.restore();},
    afterDatasetsDraw(chart){const {ctx,chartArea:a,scales:{x,y}}=chart;ctx.save();
      ctx.strokeStyle='#333';ctx.lineWidth=1;
      dLabeled.forEach((p,k)=>{const an=D_ANCHORS[k];ctx.beginPath();ctx.moveTo(x.getPixelForValue(an[0]),y.getPixelForValue(an[1]));ctx.lineTo(x.getPixelForValue(p[2]),y.getPixelForValue(p[3]));ctx.stroke();});
      ctx.font='18px '+FONT;ctx.textAlign='center';ctx.textBaseline='middle';
      dLabeled.forEach((p,k)=>{const an=D_ANCHORS[k];const X=x.getPixelForValue(an[0]),Y=y.getPixelForValue(an[1]);
        const w=ctx.measureText(p[0]).width+10,h=23;rrect(ctx,X-w/2,Y-h/2,w,h,4);ctx.fillStyle=CANCERC[p[1]];ctx.fill();
        ctx.fillStyle=p[1]==='LUAD'?'#222':'#fff';ctx.fillText(p[0],X,Y+1);});
      ctx.strokeStyle='#222';ctx.lineWidth=2;ctx.strokeRect(a.left,a.top,a.right-a.left,a.bottom-a.top);ctx.restore();}}],
  options:{...base,layout:lay(4,10),
    scales:{
      x:{type:'linear',min:-8.2,max:26.8,afterBuildTicks:s=>{s.ticks=[0,10,20].map(v=>({value:v}))},afterFit:fixH(40),
         grid:{drawOnChartArea:false,drawTicks:true,tickLength:5,color:'#333'},border:{display:false},
         ticks:{autoSkip:false,maxRotation:0,font:{size:22},color:'#333',padding:3,callback:v=>mfmt(v)}},
      y:{type:'linear',min:-86.3,max:3.9,afterBuildTicks:s=>{s.ticks=[0,-20,-40,-60,-80].map(v=>({value:v}))},afterFit:fixW(65),
         grid:{drawOnChartArea:false,drawTicks:true,tickLength:5,color:'#333'},border:{display:false},
         ticks:{autoSkip:false,font:{size:22},color:'#333',padding:3,callback:v=>mfmt(v)}}
    }}});
txt('Signed \u2212log<span class="sb">10</span> of adjusted p\u2212value of',830,1820,27,{ax:0.5,rot:-90});
txt('CRISPR gene effect score below zero',865,1820,27,{ax:0.5,rot:-90});
txt('(T test)',897,1820,27,{ax:0.5,rot:-90});
txt('Signed \u2212log<span class="sb">10</span> of adjusted p\u2212value (KSEA)',1268,2082,27,{ax:0.5});
</script>
</body></html>
